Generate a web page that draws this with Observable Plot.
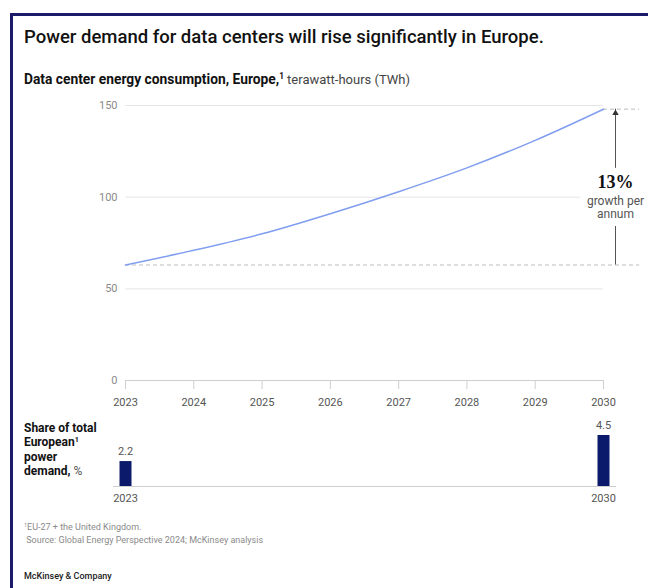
<!DOCTYPE html>
<html>
<head>
<meta charset="utf-8">
<script src="https://cdn.jsdelivr.net/npm/d3@7"></script>
<script src="https://cdn.jsdelivr.net/npm/@observablehq/plot@0.6"></script>
<style>
  body { margin: 0; width: 648px; height: 588px; overflow: hidden; background: #fff; position: relative;
         font-family: Roboto, "Liberation Sans", sans-serif; color: #222; }
  #frame { position: absolute; left: 10px; top: 13px; width: 720px; height: 720px; border: 3px solid #1b1a6b; box-sizing: border-box; }
  .abs { position: absolute; left: 24px; white-space: nowrap; }
  #title { top: 27px; font-size: 18.5px; line-height: 20px; font-weight: 500; color: #111; }
  #subtitle { top: 71px; font-size: 13px; line-height: 16px; color: #444; }
  #subtitle b { color: #111; font-weight: 700; font-size: 13.8px; }
  sup { font-size: 0.6em; line-height: 0; vertical-align: 0.55em; }
  #main { position: absolute; left: 0; top: 90px; }
  #share { position: absolute; left: 0; top: 415px; }
  #sharelabel { top: 421px; font-size: 12px; line-height: 14.3px; color: #555; }
  #sharelabel b { color: #111; font-weight: 700; }
  #notes { top: 521px; font-size: 9px; line-height: 13px; color: #8a8a8a; }
  #brand { top: 570px; font-size: 9px; line-height: 13px; color: #222; font-weight: 500; }
</style>
</head>
<body>
<div id="frame"></div>
<div id="title" class="abs">Power demand for data centers will rise significantly in Europe.</div>
<div id="subtitle" class="abs"><b>Data center energy consumption, Europe,<sup>1</sup></b> terawatt-hours (TWh)</div>
<div id="main"></div>
<div id="sharelabel" class="abs"><b>Share of total<br>European<sup>1</sup><br>power<br>demand,</b> %</div>
<div id="share"></div>
<div id="notes" class="abs"><sup>1</sup>EU-27 + the United Kingdom.<br>&nbsp;Source: Global Energy Perspective 2024; McKinsey analysis</div>
<div id="brand" class="abs">McKinsey &amp; Company</div>
<script>
// Data center energy consumption in Europe, TWh
const years = [2023, 2024, 2025, 2026, 2027, 2028, 2029, 2030];
const consumptionTWh = [63, 71, 80, 91, 103, 116, 131, 148];
const yTicks = [0, 50, 100, 150];

// Share of total European power demand, %
const shareYears = [2023, 2030];
const sharePct = [2.2, 4.5];

const series = years.map((year, i) => ({year, twh: consumptionTWh[i]}));
const first = series[0];
const last = series[series.length - 1];
const cagr = Math.pow(last.twh / first.twh, 1 / (last.year - first.year)) - 1;
const cagrLabel = `${Math.round(cagr * 100)}%`;
const midTWh = (first.twh + last.twh) / 2;
const guideEnd = last.year + 0.53; // dashed guides run a little past the last year

const font = "Roboto, 'Liberation Sans', sans-serif";
const serif = "'Liberation Serif', 'DejaVu Serif', serif";

// growth annotation: a white knock-out layer first, then the text itself
const growthText = [
  {text: cagrLabel, dy: -6, fontFamily: serif, fontWeight: "bold", fontSize: 18, fill: "#111"},
  {text: "growth per\nannum", dy: 20, fontFamily: font, fontWeight: "normal", fontSize: 12, fill: "#555"}
];
const annotation = (halo) => growthText.map(t =>
  Plot.text([midTWh], {
    x: () => last.year, y: d => d, text: () => t.text, dx: 12, dy: t.dy, lineHeight: 1.15,
    fontFamily: t.fontFamily, fontWeight: t.fontWeight, fontSize: t.fontSize,
    fill: halo ? "white" : t.fill,
    ...(halo ? {stroke: "white", strokeWidth: 16} : {})
  })
);

const main = Plot.plot({
  width: 648,
  height: 325,
  marginTop: 15,
  marginBottom: 35,
  marginLeft: 125,
  marginRight: 45,
  style: {fontFamily: font, fontSize: "11px", background: "transparent", overflow: "visible"},
  x: {domain: [first.year, last.year]},
  y: {domain: [0, 150]},
  marks: [
    Plot.ruleY(yTicks.filter(t => t > 0), {x1: first.year, x2: last.year, stroke: "#e6e6e6"}),
    Plot.ruleY([first.twh], {x1: first.year, x2: guideEnd, stroke: "#bdbdbd", strokeDasharray: "4,3"}),
    Plot.ruleY([last.twh], {x1: last.year, x2: guideEnd, stroke: "#bdbdbd", strokeDasharray: "4,3"}),
    Plot.ruleY([0], {x1: first.year, x2: last.year, stroke: "#cfcfcf"}),
    Plot.axisX({ticks: years, tickFormat: d => String(d), tickSize: 9, tickPadding: 9,
                stroke: "#cfcfcf", fill: "#555", label: null}),
    Plot.axisY({ticks: yTicks, tickSize: 0, tickPadding: 8, fill: "#8a8a8a", label: null}),
    Plot.line(series, {x: "year", y: "twh", stroke: "#809ef0", strokeWidth: 1.5, curve: "monotone-x"}),
    // growth arrow
    Plot.ruleX([last.year], {y1: first.twh, y2: last.twh, dx: 12, stroke: "#555"}),
    Plot.dot([last], {x: "year", y: "twh", dx: 12, dy: 4, symbol: "triangle", r: 2.4, fill: "#333", stroke: null}),
    ...annotation(true),
    ...annotation(false)
  ]
});
document.getElementById("main").append(main);

const shareData = shareYears.map((year, i) => ({year, pct: sharePct[i]}));

const share = Plot.plot({
  width: 648,
  height: 95,
  marginTop: 20,
  marginBottom: 24,
  marginLeft: 125,
  marginRight: 45,
  style: {fontFamily: font, fontSize: "11px", background: "transparent", overflow: "visible"},
  x: {domain: [first.year, last.year], axis: null},
  y: {domain: [0, 4.5], axis: null},
  marks: [
    Plot.ruleY([0], {x1: first.year, x2: last.year, insetLeft: -12, insetRight: -13, stroke: "#cfcfcf"}),
    Plot.ruleX(shareData, {x: "year", y1: 0, y2: "pct", stroke: "#0b1a6a", strokeWidth: 12}),
    Plot.text(shareData, {x: "year", y: "pct", text: d => d.pct.toFixed(1), dy: -10, fill: "#555"}),
    Plot.text(shareData, {x: "year", y: 0, text: d => String(d.year), dy: 12, fill: "#555"})
  ]
});
document.getElementById("share").append(share);
</script>
</body>
</html>
